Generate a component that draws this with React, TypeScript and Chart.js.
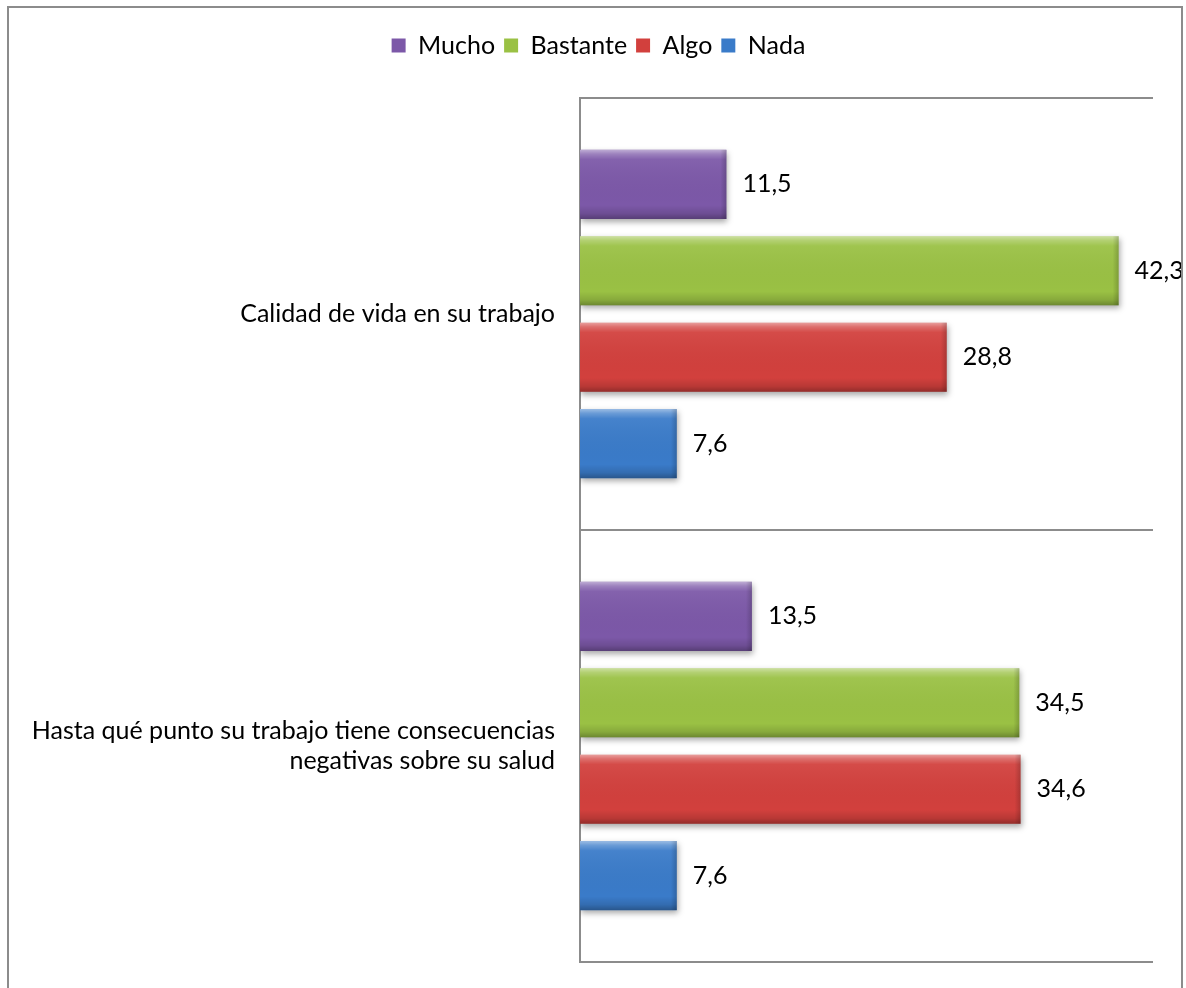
import React, { useEffect, useRef } from "react";
import { Chart, registerables } from "chart.js";

Chart.register(...registerables);

const categories: (string | string[])[] = [
  "Calidad de vida en su trabajo",
  ["Hasta qué punto su trabajo tiene consecuencias", "negativas sobre su salud"],
];
const seriesNames = ["Mucho", "Bastante", "Algo", "Nada"];
const mucho = [11.5, 13.5];
const bastante = [42.3, 34.5];
const algo = [28.8, 34.6];
const nada = [7.6, 7.6];
const seriesColors = ["#7c58a8", "#9ac144", "#d2403d", "#3a7bc9"];
const xMin = 0;
const xMax = 45;

const FONT = "Lato, 'Open Sans', sans-serif";
const FONT_SIZE = 25;

const fmt = (v: number) => v.toFixed(1).replace(".", ",");

const bevelPlugin = {
  id: "bevelShadow",
  beforeDatasetsDraw(chart: any) {
    const ctx = chart.ctx;
    ctx.save();
    ctx.shadowColor = "rgba(0,0,0,0.35)";
    ctx.shadowBlur = 6;
    ctx.shadowOffsetX = 1;
    ctx.shadowOffsetY = 3;
  },
  afterDatasetsDraw(chart: any) {
    const ctx = chart.ctx;
    ctx.restore();
    chart.data.datasets.forEach((ds: any, di: number) => {
      const meta = chart.getDatasetMeta(di);
      meta.data.forEach((el: any, i: number) => {
        const p = el.getProps(["x", "y", "base", "height"], true);
        const left = Math.min(p.base, p.x);
        const right = Math.max(p.base, p.x);
        const top = p.y - p.height / 2;
        const bottom = p.y + p.height / 2;
        const g = ctx.createLinearGradient(0, top, 0, bottom);
        g.addColorStop(0, "rgba(255,255,255,0.5)");
        g.addColorStop(0.06, "rgba(255,255,255,0.25)");
        g.addColorStop(0.14, "rgba(255,255,255,0.06)");
        g.addColorStop(0.8, "rgba(0,0,0,0.0)");
        g.addColorStop(0.92, "rgba(0,0,0,0.12)");
        g.addColorStop(1, "rgba(0,0,0,0.3)");
        ctx.save();
        ctx.fillStyle = g;
        ctx.fillRect(left, top, right - left, bottom - top);
        const gr = ctx.createLinearGradient(right - 6, 0, right, 0);
        gr.addColorStop(0, "rgba(0,0,0,0)");
        gr.addColorStop(1, "rgba(0,0,0,0.18)");
        ctx.fillStyle = gr;
        ctx.fillRect(right - 6, top, 6, bottom - top);
        ctx.restore();
        ctx.save();
        ctx.fillStyle = "#000";
        ctx.font = `${FONT_SIZE}px ${FONT}`;
        ctx.textAlign = "left";
        ctx.textBaseline = "middle";
        ctx.fillText(fmt(ds.data[i]), right + 16, p.y);
        ctx.restore();
      });
    });
  },
};

const legendSpacer = {
  id: "legendSpacer",
  beforeInit(chart: any) {
    const legend = chart.legend;
    if (legend && !legend.__patched) {
      const orig = legend.fit;
      legend.fit = function () {
        orig.bind(legend)();
        this.height += 30;
      };
      legend.__patched = true;
    }
  },
  afterLayout(chart: any) {
    const legend = chart.legend;
    if (legend) {
      legend.left += 22;
      legend.right += 22;
    }
  },
};

export default function App() {
  const ref = useRef<HTMLCanvasElement | null>(null);
  useEffect(() => {
    if (!ref.current) return;
    const data = [mucho, bastante, algo, nada];
    const chart = new Chart(ref.current, {
      type: "bar",
      data: {
        labels: categories,
        datasets: seriesNames.map((name, k) => ({
          label: name,
          data: data[k],
          backgroundColor: seriesColors[k],
          borderWidth: 0,
          categoryPercentage: 0.8,
          barPercentage: 0.8,
        })),
      },
      options: {
        indexAxis: "y",
        animation: false,
        responsive: false,
        maintainAspectRatio: false,
        layout: { padding: { left: 0, right: 33, top: 24, bottom: 26 } },
        plugins: {
          legend: {
            position: "top",
            align: "center",
            labels: {
              boxWidth: 14,
              boxHeight: 14,
              padding: 9,
              color: "#000",
              font: { family: FONT, size: FONT_SIZE },
            },
          },
          tooltip: { enabled: false },
        },
        scales: {
          x: { display: false, min: xMin, max: xMax },
          y: {
            afterFit: (scale: any) => {
              scale.width = 580;
              scale.paddingTop = 0;
              scale.paddingBottom = 0;
            },
            grid: {
              color: "#8c8c8c",
              lineWidth: 2,
              drawTicks: false,
              offset: true,
            },
            border: { display: true, color: "#8c8c8c", width: 2 },
            ticks: {
              padding: 25,
              color: "#000",
              font: { family: FONT, size: FONT_SIZE },
            },
          },
        },
      },
      plugins: [bevelPlugin, legendSpacer],
    } as any);
    return () => chart.destroy();
  }, []);
  return (
    <div style={{ position: "fixed", left: 0, top: 0, width: 1186, height: 988, background: "#fff", overflow: "hidden" }}>
      <canvas ref={ref} width={1186} height={988} style={{ display: "block", position: "absolute", left: 0, top: 0 }} />
      <div
        style={{
          position: "absolute",
          left: 7,
          top: 6,
          width: 1176,
          height: 1010,
          border: "2px solid #8c8c8c",
          boxSizing: "border-box",
          pointerEvents: "none",
        }}
      />
    </div>
  );
}
